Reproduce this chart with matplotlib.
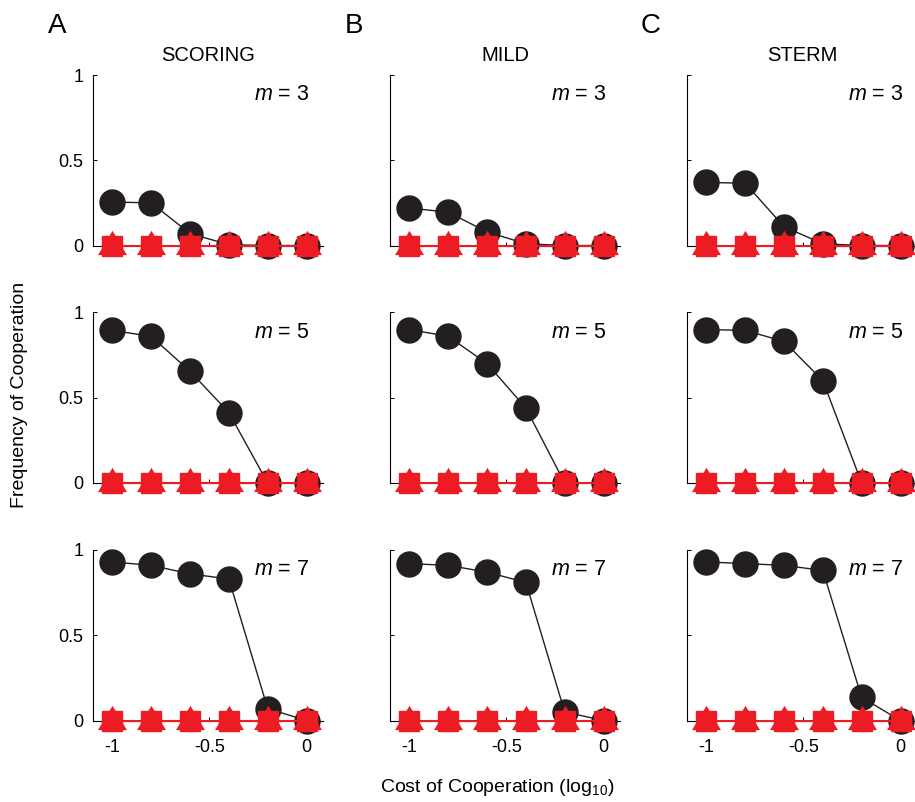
import matplotlib
matplotlib.use("Agg")
import matplotlib.pyplot as plt
from matplotlib.path import Path

plt.rcParams["font.family"] = ["Liberation Sans", "DejaVu Sans"]
plt.rcParams["mathtext.fontset"] = "custom"
plt.rcParams["mathtext.rm"] = "Liberation Sans"
plt.rcParams["mathtext.it"] = "Liberation Sans:italic"

# --------------------------- DATA --------------------------- #

cost = [-1.0, -0.8, -0.6, -0.4, -0.2, 0.0]
strategies = ["SCORING", "MILD", "STERM"]
panel_letters = ["A", "B", "C"]
m_values = [3, 5, 7]

# black circles: cooperation frequency, per strategy, per m
scoring_coop = [
    [0.255, 0.25, 0.07, 0.005, 0.0, 0.0],
    [0.895, 0.86, 0.655, 0.413, 0.0, 0.0],
    [0.93, 0.91, 0.86, 0.83, 0.07, 0.0],
]
mild_coop = [
    [0.22, 0.195, 0.08, 0.01, 0.0, 0.0],
    [0.90, 0.86, 0.70, 0.44, 0.0, 0.0],
    [0.92, 0.91, 0.87, 0.81, 0.05, 0.0],
]
sterm_coop = [
    [0.37, 0.365, 0.11, 0.01, 0.0, 0.0],
    [0.90, 0.895, 0.83, 0.60, 0.0, 0.0],
    [0.93, 0.92, 0.91, 0.88, 0.135, 0.0],
]
coop_data = [scoring_coop, mild_coop, sterm_coop]

# red squares / triangles (other conditions), all zero
red_square = [0.0, 0.0, 0.0, 0.0, 0.0, 0.0]
red_triangle = [0.0, 0.0, 0.0, 0.0, 0.0, 0.0]

# --------------------------- PLOTTING --------------------------- #

W, H = 915, 802
fig = plt.figure(figsize=(W / 100, H / 100), dpi=100)

col_left_px = [93, 390, 687]
row_top_px = [75, 312.5, 550]
ax_w_px = 230
ax_h_px = 170.5
xlim = (-1.1, 0.085)

red = "#ed1c24"
black = "#231f20"

# triangle whose centre sits low (MATLAB-like '^')
tri = Path([(0, 15.7), (-14.5, -8.6), (14.5, -8.6), (0, 15.7)],
           [Path.MOVETO, Path.LINETO, Path.LINETO, Path.CLOSEPOLY])

for c in range(3):
    for r in range(3):
        left = col_left_px[c] / W
        bottom = 1 - (row_top_px[r] + ax_h_px) / H
        ax = fig.add_axes([left, bottom, ax_w_px / W, ax_h_px / H])

        ax.plot(cost, red_square, color=red, lw=1.5, marker="s", ms=15,
                mec=red, mfc=red, clip_on=False, zorder=4)
        ax.plot(cost, coop_data[c][r], color=black, lw=1.0, marker="o",
                ms=18, mfc=black, mec=black, clip_on=False, zorder=3)
        ax.plot(cost, red_triangle, color=red, lw=0, marker=tri, ms=22.6,
                mec="none", mfc=red, clip_on=False, zorder=5)

        ax.set_xlim(*xlim)
        ax.set_ylim(0, 1)
        ax.spines["top"].set_visible(False)
        ax.spines["right"].set_visible(False)
        ax.spines["left"].set_linewidth(0.8)
        ax.spines["bottom"].set_linewidth(0.8)
        ax.set_xticks([-1, -0.5, 0])
        ax.set_yticks([0, 0.5, 1])
        ax.tick_params(direction="in", length=3, width=0.7, labelsize=13)
        ax.tick_params(axis="x", pad=13)
        ax.tick_params(axis="y", pad=7)
        if c == 0:
            ax.set_yticklabels(["0", "0.5", "1"])
        else:
            ax.set_yticklabels([])
        if r == 2:
            ax.set_xticklabels(["-1", "-0.5", "0"])
        else:
            ax.set_xticklabels([])

        ax.text(0.94, 0.885, f"$m$ = {m_values[r]}", transform=ax.transAxes,
                ha="right", va="center", fontsize=15.5)

        if r == 0:
            ax.set_title(strategies[c], fontsize=14.5, pad=10)
            fig.text((col_left_px[c] - 36) / W, 1 - 26 / H, panel_letters[c],
                     fontsize=20, ha="center", va="center")

fig.text(20 / W, 1 - 395 / H, "Frequency of Cooperation", rotation=90,
         ha="center", va="center", fontsize=14)
fig.text(497 / W, 1 - 787 / H, "Cost of Cooperation (log$_{10}$)",
         ha="center", va="center", fontsize=14)

plt.savefig("out.png", dpi=100)
